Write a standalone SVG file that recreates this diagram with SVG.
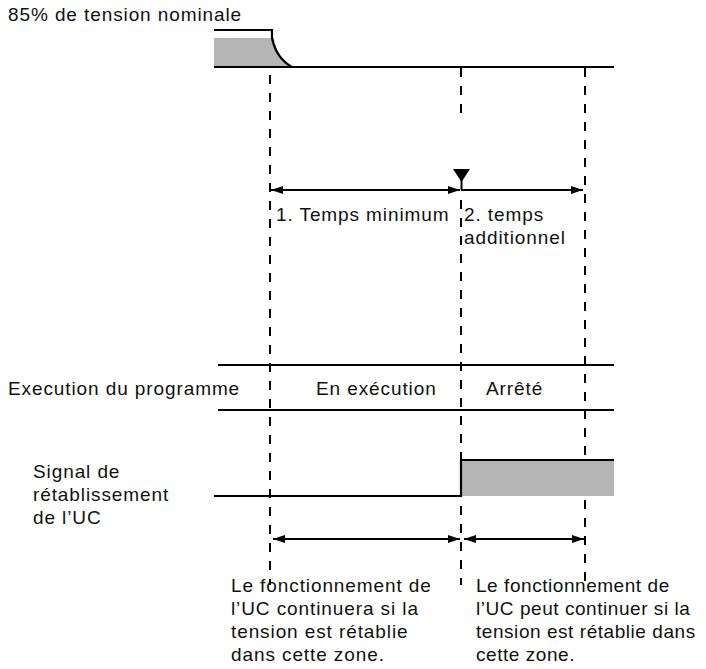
<svg xmlns="http://www.w3.org/2000/svg" width="706" height="669" viewBox="0 0 706 669">
<defs>
<style>
text{font-family:"Liberation Sans",Arial,sans-serif;font-size:19px;fill:#111;letter-spacing:0.9px}
#note-right text{letter-spacing:0.55px}
.ln{stroke:#000;stroke-width:2.2;fill:none}
.dash{stroke:#000;stroke-width:2;fill:none;stroke-dasharray:9 9}
.arr{stroke:#000;stroke-width:2;fill:none;marker-start:url(#ah);marker-end:url(#ah)}
.shade{fill:#b5b5b5}
</style>
<marker id="ah" viewBox="0 0 12 8" refX="12" refY="4" markerWidth="12" markerHeight="8" markerUnits="userSpaceOnUse" orient="auto-start-reverse">
<path d="M0,0 L12,4 L0,8 z" fill="#000"/>
</marker>
</defs>
<rect width="706" height="669" fill="#fff"/>

<g id="voltage">
<text x="8" y="21">85% de tension nominale</text>
<path class="shade" d="M214,38 H274 Q277,58 292,67 H214 z"/>
<path class="ln" d="M214,30 H272 V38 Q276,58 292,67 H614"/>
<path class="ln" d="M214,67 H292"/>
</g>

<g id="connectors">
<path class="dash" d="M270,75 V585"/>
<path class="dash" d="M461,68 V115"/>
<path class="dash" d="M461,200 V585"/>
<path class="dash" d="M585,68 V585"/>
<path class="arr" d="M271,190 H460"/>
<path d="M461,190 H583" stroke="#000" stroke-width="2" fill="none" marker-end="url(#ah)"/>
<path d="M453,169 H470 L461.5,182 z" fill="#000"/>
<path d="M461.5,180 V190" stroke="#000" stroke-width="2"/>
<path class="arr" d="M273,539 H460"/>
<path class="arr" d="M464,539 H584"/>
</g>

<g id="phase-labels">
<text x="276" y="221">1. Temps minimum</text>
<text x="464" y="221">2. temps</text>
<text x="464" y="244">additionnel</text>
</g>

<g id="program">
<text x="8" y="395">Execution du programme</text>
<path class="ln" d="M218,365 H614"/>
<path class="ln" d="M218,410 H614"/>
<text x="316" y="395">En exécution</text>
<text x="486" y="395">Arrêté</text>
</g>

<g id="reset-signal">
<text x="33" y="478">Signal de</text>
<text x="33" y="501">rétablissement</text>
<text x="33" y="524">de l’UC</text>
<rect class="shade" x="462" y="460" width="152" height="36"/>
<path class="ln" d="M214,496 H461 V460 H614"/>
</g>

<g id="note-left">
<text x="231" y="592">Le fonctionnement de</text>
<text x="231" y="615">l’UC continuera si la</text>
<text x="231" y="638">tension est rétablie</text>
<text x="231" y="661">dans cette zone.</text>
</g>

<g id="note-right">
<text x="476" y="592">Le fonctionnement de</text>
<text x="476" y="615">l’UC peut continuer si la</text>
<text x="476" y="638">tension est rétablie dans</text>
<text x="476" y="661">cette zone.</text>
</g>
</svg>
